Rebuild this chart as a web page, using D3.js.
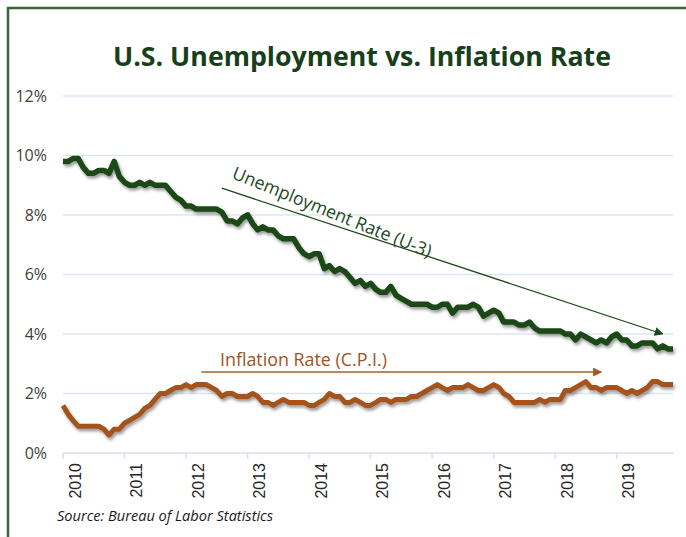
<!DOCTYPE html>
<html>
<head>
<meta charset="utf-8">
<script src="https://cdn.jsdelivr.net/npm/d3@7"></script>
<style>
  body { margin: 0; background: #fff; }
  svg { display: block; font-family: "Open Sans", sans-serif; }
</style>
</head>
<body>
<svg id="chart" width="686" height="537"></svg>
<script>
// monthly data, Jan 2010 .. Dec 2019
const years = [2010, 2011, 2012, 2013, 2014, 2015, 2016, 2017, 2018, 2019]
const unemployment = [
  9.8, 9.8, 9.9, 9.9, 9.6, 9.4, 9.4, 9.5, 9.5, 9.4, 9.8, 9.3,
  9.1, 9.0, 9.0, 9.1, 9.0, 9.1, 9.0, 9.0, 9.0, 8.8, 8.6, 8.5,
  8.3, 8.3, 8.2, 8.2, 8.2, 8.2, 8.2, 8.1, 7.8, 7.8, 7.7, 7.9,
  8.0, 7.7, 7.5, 7.6, 7.5, 7.5, 7.3, 7.2, 7.2, 7.2, 6.9, 6.7,
  6.6, 6.7, 6.7, 6.2, 6.3, 6.1, 6.2, 6.1, 5.9, 5.7, 5.8, 5.6,
  5.7, 5.5, 5.4, 5.4, 5.6, 5.3, 5.2, 5.1, 5.0, 5.0, 5.0, 5.0,
  4.9, 4.9, 5.0, 5.0, 4.7, 4.9, 4.9, 4.9, 5.0, 4.9, 4.6, 4.7,
  4.8, 4.7, 4.4, 4.4, 4.4, 4.3, 4.3, 4.4, 4.2, 4.1, 4.1, 4.1,
  4.1, 4.1, 4.0, 4.0, 3.8, 4.0, 3.9, 3.8, 3.7, 3.8, 3.7, 3.9,
  4.0, 3.8, 3.8, 3.6, 3.6, 3.7, 3.7, 3.7, 3.5, 3.6, 3.5, 3.5
]
const inflation = [
  1.6, 1.3, 1.1, 0.9, 0.9, 0.9, 0.9, 0.9, 0.8, 0.6, 0.8, 0.8,
  1.0, 1.1, 1.2, 1.3, 1.5, 1.6, 1.8, 2.0, 2.0, 2.1, 2.2, 2.2,
  2.3, 2.2, 2.3, 2.3, 2.3, 2.2, 2.1, 1.9, 2.0, 2.0, 1.9, 1.9,
  1.9, 2.0, 1.9, 1.7, 1.7, 1.6, 1.7, 1.8, 1.7, 1.7, 1.7, 1.7,
  1.6, 1.6, 1.7, 1.8, 2.0, 1.9, 1.9, 1.7, 1.7, 1.8, 1.7, 1.6,
  1.6, 1.7, 1.8, 1.8, 1.7, 1.8, 1.8, 1.8, 1.9, 1.9, 2.0, 2.1,
  2.2, 2.3, 2.2, 2.1, 2.2, 2.2, 2.2, 2.3, 2.2, 2.1, 2.1, 2.2,
  2.3, 2.2, 2.0, 1.9, 1.7, 1.7, 1.7, 1.7, 1.7, 1.8, 1.7, 1.8,
  1.8, 1.8, 2.1, 2.1, 2.2, 2.3, 2.4, 2.2, 2.2, 2.1, 2.2, 2.2,
  2.2, 2.1, 2.0, 2.1, 2.0, 2.1, 2.2, 2.4, 2.4, 2.3, 2.3, 2.3
]
const yTicks = [0, 2, 4, 6, 8, 10, 12]

const svg = d3.select('#chart')
const x0 = 63
const x1 = 673
const yTop = 96
const yBottom = 453

const months = d3.range(unemployment.length).map(i => new Date(2010, i, 1))

const x = d3.scaleTime()
  .domain([months[0], months[months.length - 1]])
  .range([x0, x1])
const y = d3.scaleLinear().domain([0, 12]).range([yBottom, yTop])

const defs = svg.append('defs')
const shadow = defs.append('filter')
  .attr('id', 'shadow')
  .attr('x', '-5%').attr('y', '-20%')
  .attr('width', '110%').attr('height', '140%')
shadow.append('feDropShadow')
  .attr('dx', 1.5).attr('dy', 2.5)
  .attr('stdDeviation', 1.6)
  .attr('flood-color', '#000')
  .attr('flood-opacity', 0.4)

const addArrowHead = (id, color) => {
  defs.append('marker')
    .attr('id', id)
    .attr('viewBox', '0 0 10 10')
    .attr('refX', 9).attr('refY', 5)
    .attr('markerWidth', 9).attr('markerHeight', 9)
    .attr('markerUnits', 'userSpaceOnUse')
    .attr('orient', 'auto')
    .append('path')
    .attr('d', 'M0,0 L10,5 L0,10 Z')
    .attr('fill', color)
}
addArrowHead('headGreen', '#1e4a1a')
addArrowHead('headBrown', '#a8581f')

// frame
svg.append('path')
  .attr('d', 'M8,537 V8 H686')
  .attr('fill', 'none')
  .attr('stroke', '#3b6437')
  .attr('stroke-width', 2.5)

// title
svg.append('text')
  .attr('x', 362).attr('y', 66)
  .attr('text-anchor', 'middle')
  .attr('textLength', 498)
  .attr('lengthAdjust', 'spacingAndGlyphs')
  .style('font-size', '27px')
  .style('font-weight', 'bold')
  .style('fill', '#17401a')
  .text('U.S. Unemployment vs. Inflation Rate')

// gridlines
svg.append('g')
  .selectAll('line')
  .data(yTicks.filter(d => d > 0))
  .enter()
  .append('line')
  .attr('x1', x0).attr('x2', x1)
  .attr('y1', d => y(d)).attr('y2', d => y(d))
  .attr('stroke', '#dce6f2')
  .attr('stroke-width', 1.5)

// y labels
svg.append('g')
  .selectAll('text')
  .data(yTicks)
  .enter()
  .append('text')
  .attr('x', 47)
  .attr('y', d => y(d))
  .attr('dy', '0.35em')
  .attr('text-anchor', 'end')
  .style('font-size', '16px')
  .style('fill', '#404040')
  .text(d => d + '%')

// x axis
const xAxis = svg.append('g')
xAxis.append('line')
  .attr('x1', x0).attr('x2', x1)
  .attr('y1', yBottom).attr('y2', yBottom)
  .attr('stroke', '#d6e1f0')
  .attr('stroke-width', 1.5)
xAxis.selectAll('line.tick')
  .data(years)
  .enter()
  .append('line')
  .attr('class', 'tick')
  .attr('x1', d => x(new Date(d, 0, 1)))
  .attr('x2', d => x(new Date(d, 0, 1)))
  .attr('y1', yBottom).attr('y2', yBottom + 6)
  .attr('stroke', '#d6e1f0')
  .attr('stroke-width', 1.5)
xAxis.selectAll('text')
  .data(years)
  .enter()
  .append('text')
  .attr('transform', d => `translate(${x(new Date(d, 0, 1)) + 12},463) rotate(-90)`)
  .attr('text-anchor', 'end')
  .attr('dy', '0.35em')
  .style('font-family', '"Liberation Sans", Arial, sans-serif')
  .style('font-size', '16px')
  .style('fill', '#262626')
  .text(d => d)

// lines
const line = d3.line()
  .x((d, i) => x(months[i]))
  .y(d => y(d))
  .curve(d3.curveLinear)

svg.append('path')
  .datum(inflation)
  .attr('d', line)
  .attr('fill', 'none')
  .attr('stroke', '#a5521b')
  .attr('stroke-width', 5)
  .attr('stroke-linejoin', 'round')
  .attr('filter', 'url(#shadow)')

svg.append('path')
  .datum(unemployment)
  .attr('d', line)
  .attr('fill', 'none')
  .attr('stroke', '#1b4716')
  .attr('stroke-width', 5.5)
  .attr('stroke-linejoin', 'round')
  .attr('filter', 'url(#shadow)')

// annotations
svg.append('line')
  .attr('x1', x(new Date(2012, 7, 1))).attr('y1', y(8.9))
  .attr('x2', x(new Date(2019, 9, 1))).attr('y2', y(4.0))
  .attr('stroke', '#1e4a1a')
  .attr('stroke-width', 1.3)
  .attr('marker-end', 'url(#headGreen)')

svg.append('text')
  .attr('transform', 'translate(231,178) rotate(22)')
  .attr('textLength', 213)
  .attr('lengthAdjust', 'spacingAndGlyphs')
  .style('font-size', '18px')
  .style('fill', '#23481f')
  .text('Unemployment Rate (U-3)')

svg.append('line')
  .attr('x1', x(new Date(2012, 3, 1))).attr('y1', y(2.72))
  .attr('x2', x(new Date(2018, 9, 1))).attr('y2', y(2.72))
  .attr('stroke', '#ad5e25')
  .attr('stroke-width', 1.5)
  .attr('marker-end', 'url(#headBrown)')

svg.append('text')
  .attr('x', 220).attr('y', 366)
  .attr('textLength', 167)
  .attr('lengthAdjust', 'spacingAndGlyphs')
  .style('font-size', '17.5px')
  .style('fill', '#a0521e')
  .text('Inflation Rate (C.P.I.)')

// source
svg.append('text')
  .attr('x', 57).attr('y', 521)
  .attr('textLength', 216)
  .attr('lengthAdjust', 'spacingAndGlyphs')
  .style('font-size', '14.5px')
  .style('font-style', 'italic')
  .style('fill', '#1a1a1a')
  .text('Source: Bureau of Labor Statistics')
</script>
</body>
</html>
